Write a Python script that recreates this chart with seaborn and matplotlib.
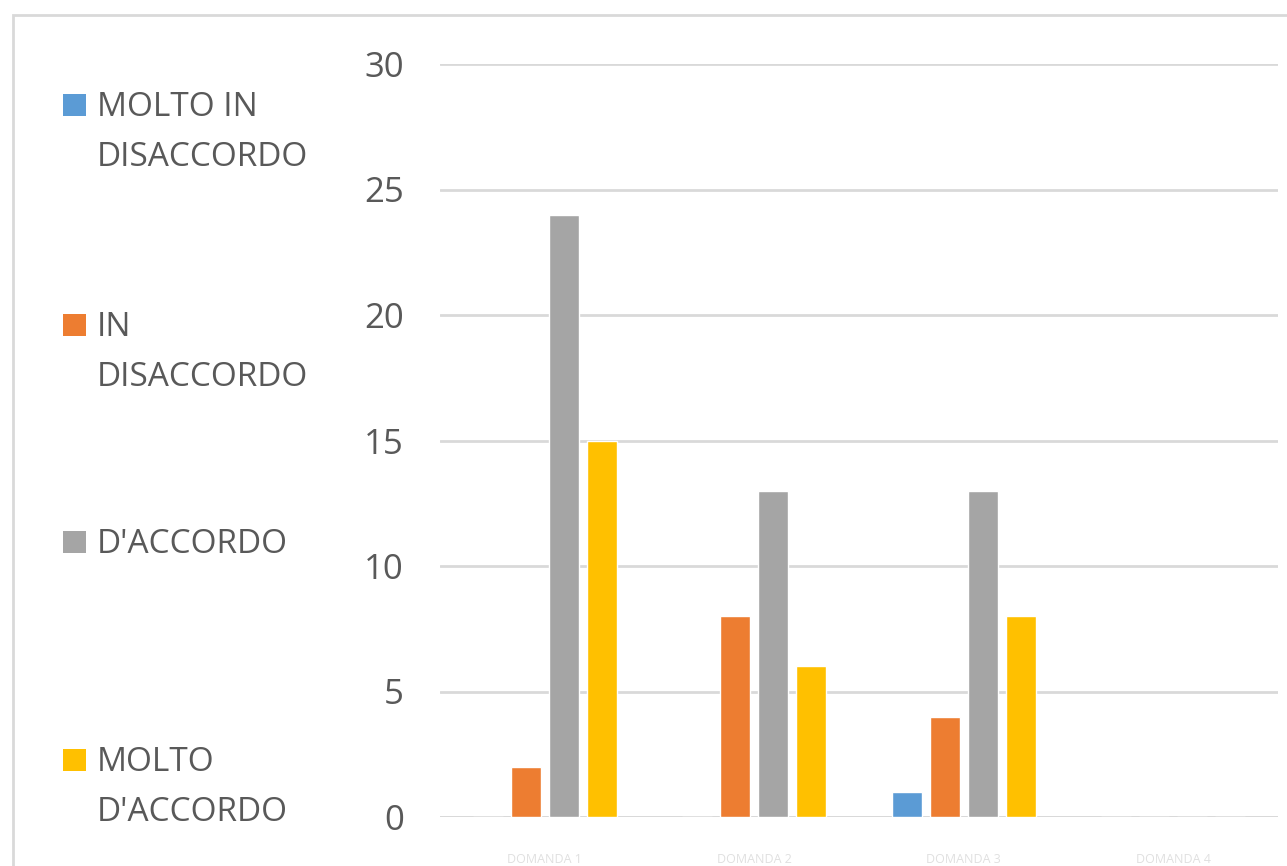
import matplotlib
matplotlib.use("Agg")
import matplotlib.pyplot as plt
import matplotlib.patches as mpatches
import pandas as pd
import seaborn as sns

categories = ["DOMANDA 1", "DOMANDA 2", "DOMANDA 3", "DOMANDA 4"]
series = ["MOLTO IN DISACCORDO", "IN DISACCORDO", "D'ACCORDO", "MOLTO D'ACCORDO"]
legend_labels = ["MOLTO IN\nDISACCORDO", "IN\nDISACCORDO", "D'ACCORDO", "MOLTO\nD'ACCORDO"]
molto_disaccordo = [0, 0, 1, 0]
disaccordo = [2, 8, 4, 0]
accordo = [24, 13, 13, 0]
molto_accordo = [15, 6, 8, 0]
yticks = [0, 5, 10, 15, 20, 25, 30]

colors = ["#5B9BD5", "#ED7D31", "#A5A5A5", "#FFC000"]

rows = []
for s, vals in zip(series, [molto_disaccordo, disaccordo, accordo, molto_accordo]):
    for c, v in zip(categories, vals):
        rows.append({"categoria": c, "serie": s, "valore": v})
df = pd.DataFrame(rows)

sns.set_style("white")
plt.rcParams["font.family"] = ["Open Sans", "DejaVu Sans"]
text_color = "#595959"
grid_color = "#D9D9D9"

fig = plt.figure(figsize=(12.87, 8.66), dpi=100)
ax = fig.add_axes([440 / 1287, 1 - 817 / 866, (1278 - 440) / 1287, (817 - 64) / 866])

sns.barplot(data=df, x="categoria", y="valore", hue="serie", order=categories,
            hue_order=series, palette=colors, width=0.727, gap=0.21,
            legend=False, ax=ax, saturation=1)

ax.set_ylim(0, 30)
ax.set_xlim(-0.5, 3.5)
ax.set_yticks(yticks)
ax.yaxis.grid(True, color=grid_color, linewidth=2)
ax.set_axisbelow(True)
for sp in ax.spines.values():
    sp.set_visible(False)
ax.axhline(0, color=grid_color, linewidth=2, zorder=0.5)
ax.tick_params(axis="y", length=0, pad=26, labelsize=25, labelcolor=text_color)
# category labels are barely visible at the bottom edge of the reference
ax.tick_params(axis="x", length=0, pad=26, labelsize=9, labelcolor="#E0E0E0")
ax.set_xlabel("")
ax.set_ylabel("")

# chart area border (only top and left visible in crop)
fig.patches.append(mpatches.Rectangle((13 / 1287, -0.1), 1.2, 1 - 15 / 866 + 0.1,
                                      transform=fig.transFigure, fill=False,
                                      edgecolor=grid_color, linewidth=2))

# legend on the left
legend_y = [105, 325, 542, 760]
for lab, col, y in zip(legend_labels, colors, legend_y):
    fig.patches.append(mpatches.Rectangle((63 / 1287, 1 - (y + 11) / 866), 23 / 1287, 22 / 866,
                                          transform=fig.transFigure, facecolor=col,
                                          edgecolor="none"))
    fig.text(97 / 1287, 1 - (y - 14) / 866, lab, ha="left", va="top", fontsize=24,
             color=text_color, linespacing=1.68)

fig.savefig("out.png", dpi=100)
